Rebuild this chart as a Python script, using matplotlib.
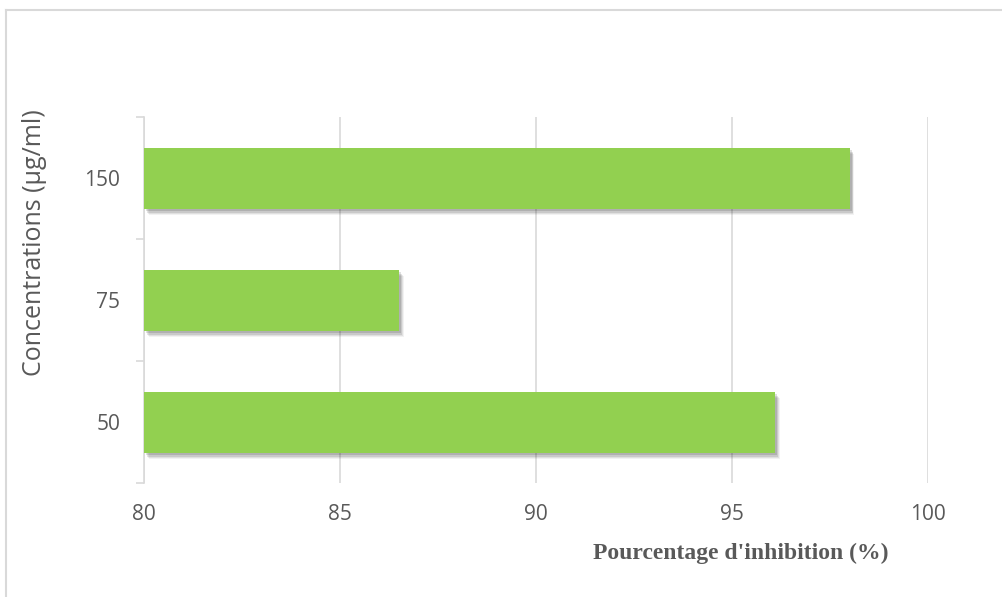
import numpy as np
import matplotlib
matplotlib.use('Agg')
import matplotlib.pyplot as plt
import matplotlib.patheffects as pe
from matplotlib.lines import Line2D

# Inhibition percentage per concentration.
concentrations = ['50', '75', '150']
inhibition = [96.1, 86.5, 98.0]

xTicks = [80, 85, 90, 95, 100]

barClr = '#92D050'
gridClr = '#D9D9D9'
textClr = '#595959'

# Figure and frame.
fig = plt.figure(figsize=(10.03, 5.97), dpi=100)
fig.add_artist(Line2D([6.5 / 1003, 6.5 / 1003], [0, 1 - 9.5 / 597],
                      color=gridClr, lw=1.5))
fig.add_artist(Line2D([6.5 / 1003, 1], [1 - 9.5 / 597, 1 - 9.5 / 597],
                      color=gridClr, lw=1.5))

ax = fig.add_axes([144 / 1003, (597 - 483) / 597,
                   (928 - 144) / 1003, (483 - 117) / 597])

# Soft drop shadow built from a few stacked offsets.
shadow = []
for off, a in [(5, 0.05), (4, 0.07), (3, 0.1), (2, 0.12)]:
  shadow.append(pe.SimplePatchShadow(offset=(off * 0.7, -off),
                                     shadow_rgbFace='black', alpha=a))
shadow.append(pe.Normal())

y = np.arange(len(concentrations))
bars = ax.barh(y, np.array(inhibition) - 80, left=80, height=0.5,
               color=barClr, zorder=3)
for b in bars:
  b.set_path_effects(shadow)

# Axes setup.
ax.set_xlim(80, 100)
ax.set_ylim(-0.5, 2.5)
ax.set_xticks(xTicks)
ax.set_xticklabels([str(t) for t in xTicks])
ax.set_yticks(y)
ax.set_yticklabels(concentrations)
ax.set_yticks([-0.5, 0.5, 1.5, 2.5], minor=True)

ax.grid(axis='x', color=gridClr, lw=1.2, zorder=0)
ax.set_axisbelow(True)
for s in ['top', 'right', 'bottom']:
  ax.spines[s].set_visible(False)
ax.spines['left'].set_color(gridClr)
ax.spines['left'].set_linewidth(1.2)

ax.tick_params(axis='x', length=0, pad=15, labelsize=15, labelcolor=textClr)
ax.tick_params(axis='y', which='major', length=0, pad=17, labelsize=15,
               labelcolor=textClr)
ax.tick_params(axis='y', which='minor', length=6, width=1.2, color=gridClr)
for lbl in ax.get_xticklabels() + ax.get_yticklabels():
  lbl.set_fontfamily('Open Sans')

# Axis titles.
fig.text(35 / 1003, 1 - 243 / 597, 'Concentrations (µg/ml)', rotation=90,
         ha='center', va='center', fontsize=18, color=textClr,
         fontfamily='Open Sans')
fig.text(741 / 1003, 1 - 553 / 597, "Pourcentage d'inhibition (%)",
         ha='center', va='center', fontsize=17, fontweight='bold',
         fontfamily='Liberation Serif', color=textClr)

fig.savefig('out.png', dpi=100)
